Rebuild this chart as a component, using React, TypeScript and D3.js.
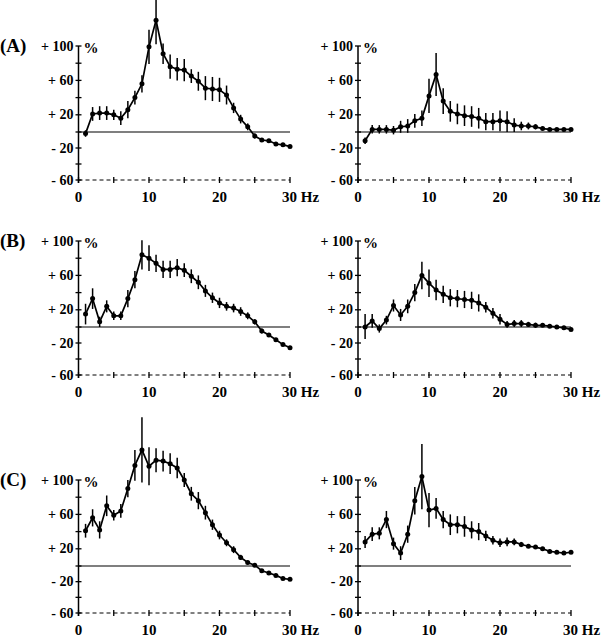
import * as d3 from "d3";

// frequency bins (Hz)
const freqs = [1, 2, 3, 4, 5, 6, 7, 8, 9, 10, 11, 12, 13, 14, 15, 16, 17, 18, 19, 20, 21, 22, 23, 24, 25, 26, 27, 28, 29, 30];

// (A)
const aLeftMean = [-2, 21, 22, 22, 20, 16, 26, 40, 56, 99, 130, 91, 76, 73, 72, 65, 59, 51, 50, 49, 43, 28, 15, 6, -5, -10, -11, -15, -16, -18];
const aLeftErr = [4, 8, 8, 8, 6, 8, 10, 8, 10, 20, 28, 12, 14, 13, 13, 8, 11, 14, 14, 14, 11, 6, 5, 4, 3, 2, 2, 1, 1, 1];
const aRightMean = [-11, 3, 3, 3, 2, 6, 7, 13, 16, 42, 67, 36, 24, 21, 19, 18, 16, 12, 12, 13, 12, 8, 7, 7, 6, 4, 3, 3, 3, 3];
const aRightErr = [4, 5, 5, 5, 5, 7, 8, 8, 9, 20, 25, 15, 12, 12, 12, 12, 12, 10, 10, 12, 12, 8, 5, 4, 3, 2, 2, 1, 1, 1];

// (B)
const bLeftMean = [15, 33, 6, 24, 13, 13, 33, 55, 84, 80, 74, 67, 67, 69, 66, 59, 52, 42, 34, 28, 24, 22, 18, 13, 6, -5, -10, -16, -22, -26];
const bLeftErr = [12, 12, 6, 7, 5, 5, 10, 10, 17, 15, 10, 10, 10, 10, 8, 8, 8, 7, 6, 6, 5, 5, 5, 4, 3, 3, 2, 2, 2, 2];
const bRightMean = [0, 7, -2, 8, 25, 14, 24, 40, 60, 51, 43, 38, 34, 33, 32, 31, 28, 23, 16, 9, 3, 4, 4, 3, 2, 2, 1, 0, -1, -3];
const bRightErr = [15, 8, 5, 5, 7, 7, 8, 10, 16, 16, 12, 10, 10, 10, 10, 10, 10, 6, 6, 6, 4, 4, 4, 3, 3, 2, 2, 2, 1, 1];

// (C)
const cLeftMean = [41, 56, 42, 70, 59, 64, 90, 117, 135, 116, 123, 122, 119, 114, 100, 84, 76, 62, 48, 36, 27, 19, 10, 4, 1, -6, -9, -12, -16, -17];
const cLeftErr = [8, 10, 10, 12, 6, 8, 10, 18, 38, 22, 14, 12, 12, 12, 8, 8, 10, 8, 6, 5, 4, 4, 3, 2, 2, 2, 2, 1, 1, 1];
const cRightMean = [28, 37, 38, 54, 26, 15, 37, 76, 104, 65, 67, 54, 48, 48, 46, 42, 40, 35, 30, 27, 28, 28, 25, 23, 22, 20, 17, 16, 15, 16];
const cRightErr = [7, 8, 7, 10, 7, 8, 10, 16, 38, 20, 12, 10, 12, 10, 12, 10, 10, 6, 5, 5, 5, 4, 3, 2, 2, 2, 2, 1, 1, 1];

const yLabelTicks = [100, 60, 20, -20, -60];
const yAllTicks = [100, 80, 60, 40, 20, 0, -20, -40, -60];
const xLabelTicks = [0, 10, 20, 30];
const xAllTicks = [0, 5, 10, 15, 20, 25, 30];
const rowLabels = ["(A)", "(B)", "(C)"];

const FONT = "'Liberation Serif', 'Times New Roman', serif";

function fmtY(v: number) {
  return (v > 0 ? "+ " : "- ") + Math.abs(v);
}

function Panel({ mean, err, x0, x1, yTop, yBot, rowLabel }: any) {
  const x = d3.scaleLinear().domain([0, 30]).range([x0, x1]);
  // the printed axis is a bit squeezed below zero
  const y = d3.scaleLinear().domain([-60, 0, 100]).range([yBot, yTop + 86, yTop]);
  const line = d3
    .line<number>()
    .x((d, i) => x(freqs[i]))
    .y((d) => y(d));

  return (
    <g>
      {rowLabel && (
        <text x={0} y={yTop + 6} fontFamily={FONT} fontWeight="bold" fontSize={19}>
          {rowLabel}
        </text>
      )}
      {/* y axis */}
      <line x1={x0} x2={x0} y1={y(100)} y2={y(-60) + 3} stroke="#000" strokeWidth={1.5} />
      {yAllTicks.map((t) => (
        <line key={t} x1={x0 - 3} x2={x0 + 3} y1={y(t)} y2={y(t)} stroke="#000" strokeWidth={1.3} />
      ))}
      {yLabelTicks.map((t) => (
        <text
          key={t}
          x={x0 - 5}
          y={y(t) + 4.5}
          textAnchor="end"
          fontFamily={FONT}
          fontWeight="bold"
          fontSize={14}
        >
          {fmtY(t)}
        </text>
      ))}
      <text x={x0 + 5} y={y(100) + 7} fontFamily={FONT} fontWeight="bold" fontSize={15}>
        %
      </text>
      {/* x axis (dashed) */}
      <line
        x1={x0}
        x2={x1}
        y1={y(-60)}
        y2={y(-60)}
        stroke="#000"
        strokeWidth={1}
        strokeDasharray="4,3"
      />
      {xAllTicks.map((t) => (
        <line key={t} x1={x(t)} x2={x(t)} y1={y(-60) - 3} y2={y(-60) + 3} stroke="#000" strokeWidth={1.3} />
      ))}
      {xLabelTicks.map((t) => (
        <text
          key={t}
          x={t === 30 ? x(t) - 8 : x(t)}
          y={y(-60) + 22}
          textAnchor={t === 30 ? "start" : "middle"}
          fontFamily={FONT}
          fontWeight="bold"
          fontSize={15}
        >
          {t === 30 ? "30 Hz" : String(t)}
        </text>
      ))}
      {/* zero line */}
      <line x1={x0} x2={x1} y1={y(0)} y2={y(0)} stroke="#000" strokeWidth={1.1} />
      {/* error bars */}
      {mean.map((m: number, i: number) => (
        <line
          key={"e" + i}
          x1={x(freqs[i])}
          x2={x(freqs[i])}
          y1={y(m - err[i])}
          y2={y(m + err[i])}
          stroke="#000"
          strokeWidth={1.5}
        />
      ))}
      <path d={line(mean) || ""} fill="none" stroke="#000" strokeWidth={1.7} />
      {mean.map((m: number, i: number) => (
        <circle key={"p" + i} cx={x(freqs[i])} cy={y(m)} r={2.5} fill="#000" />
      ))}
    </g>
  );
}

export default function App() {
  const rows = [
    { yTop: 46, yBot: 180, left: [aLeftMean, aLeftErr], right: [aRightMean, aRightErr] },
    { yTop: 241, yBot: 375, left: [bLeftMean, bLeftErr], right: [bRightMean, bRightErr] },
    { yTop: 480, yBot: 613, left: [cLeftMean, cLeftErr], right: [cRightMean, cRightErr] },
  ];
  return (
    <svg
      width={608}
      height={640}
      style={{ position: "absolute", left: 0, top: 0, background: "#fff" }}
    >
      {rows.map((r, k) => (
        <g key={k}>
          <Panel
            mean={r.left[0]}
            err={r.left[1]}
            x0={78.5}
            x1={290}
            yTop={r.yTop}
            yBot={r.yBot}
            rowLabel={rowLabels[k]}
          />
          <Panel
            mean={r.right[0]}
            err={r.right[1]}
            x0={358}
            x1={571}
            yTop={r.yTop}
            yBot={r.yBot}
          />
        </g>
      ))}
    </svg>
  );
}
